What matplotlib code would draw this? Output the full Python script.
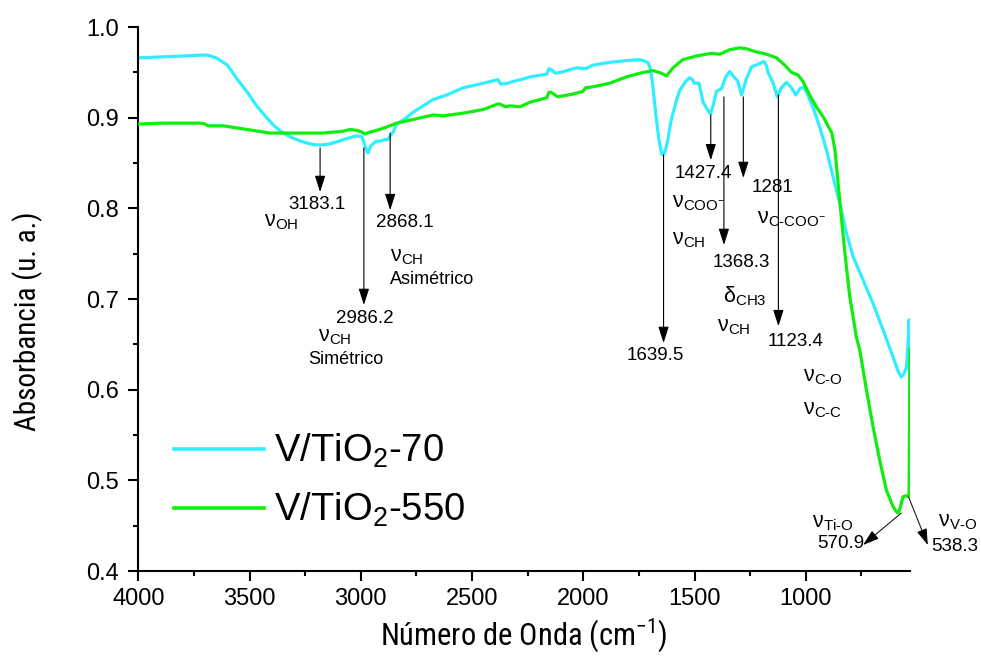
import matplotlib
matplotlib.use("Agg")
import matplotlib.pyplot as plt
from matplotlib import font_manager
from matplotlib.ticker import MultipleLocator

# ---------------------------------------------------------------- data
# FTIR spectra: wavenumber (cm-1) and absorbance (a.u.)
wn_70 = [4000, 3900, 3800, 3720, 3690, 3650, 3600, 3557, 3510, 3468, 3430, 3394,
         3360, 3319, 3280, 3242, 3206, 3170, 3140, 3100, 3062, 3020, 2995, 2980,
         2968, 2955, 2946, 2930, 2914, 2890, 2878, 2868, 2855, 2839, 2800, 2765,
         2720, 2675, 2614, 2540, 2466, 2400, 2385, 2370, 2340, 2316, 2280, 2240,
         2190, 2164, 2155, 2145, 2125, 2100, 2060, 2030, 1990, 1956, 1882, 1806,
         1746, 1710, 1700, 1690, 1675, 1660, 1648, 1640, 1630, 1620, 1607, 1597,
         1580, 1567, 1540, 1522, 1510, 1500, 1480, 1462, 1445, 1428, 1415, 1402,
         1379, 1360, 1342, 1320, 1307, 1289, 1278, 1267, 1244, 1215, 1189, 1178,
         1170, 1147, 1128, 1110, 1087, 1065, 1045, 1027, 1009, 991, 969, 938,
         907, 878, 848, 818, 788, 743, 698, 653, 608, 585, 571, 560, 548, 541,
         536, 533, 532]
abs_70 = [0.966, 0.967, 0.968, 0.969, 0.969, 0.966, 0.958, 0.943, 0.928, 0.913, 0.902, 0.892,
          0.885, 0.879, 0.875, 0.872, 0.870, 0.870, 0.871, 0.874, 0.877, 0.880, 0.879, 0.868,
          0.861, 0.869, 0.871, 0.874, 0.874, 0.876, 0.876, 0.880, 0.884, 0.893, 0.899, 0.906,
          0.913, 0.920, 0.925, 0.933, 0.937, 0.941, 0.942, 0.937, 0.938, 0.940, 0.942, 0.945,
          0.947, 0.948, 0.954, 0.953, 0.949, 0.950, 0.953, 0.955, 0.954, 0.958, 0.961, 0.963,
          0.964, 0.961, 0.955, 0.940, 0.905, 0.875, 0.860, 0.859, 0.865, 0.876, 0.895, 0.905,
          0.920, 0.930, 0.940, 0.944, 0.942, 0.938, 0.938, 0.917, 0.910, 0.904, 0.915, 0.929,
          0.932, 0.945, 0.951, 0.944, 0.941, 0.925, 0.934, 0.943, 0.956, 0.959, 0.962, 0.958,
          0.950, 0.938, 0.923, 0.933, 0.939, 0.933, 0.925, 0.932, 0.934, 0.925, 0.912, 0.890,
          0.864, 0.835, 0.806, 0.773, 0.747, 0.721, 0.695, 0.666, 0.636, 0.620, 0.614, 0.617,
          0.625, 0.650, 0.677, 0.600, 0.511]

wn_550 = [4000, 3888, 3723, 3700, 3687, 3619, 3512, 3408, 3287, 3170, 3080, 3048,
          3018, 2995, 2982, 2960, 2929, 2891, 2838, 2765, 2675, 2630, 2540, 2450,
          2385, 2375, 2350, 2330, 2285, 2240, 2164, 2155, 2145, 2115, 2047, 2002,
          1990, 1956, 1882, 1806, 1746, 1687, 1649, 1626, 1597, 1553, 1492, 1424,
          1387, 1342, 1297, 1267, 1230, 1177, 1132, 1095, 1065, 1035, 1013, 983,
          953, 920, 907, 883, 869, 848, 826, 803, 773, 758, 743, 728, 698, 668,
          638, 608, 595, 586, 578, 571, 563, 547, 540, 536, 532]
abs_550 = [0.893, 0.894, 0.894, 0.893, 0.891, 0.891, 0.887, 0.883, 0.883, 0.883, 0.885, 0.887,
           0.886, 0.884, 0.882, 0.884, 0.886, 0.889, 0.894, 0.898, 0.903, 0.902, 0.905, 0.909,
           0.915, 0.915, 0.912, 0.913, 0.912, 0.917, 0.922, 0.928, 0.928, 0.923, 0.926, 0.929,
           0.933, 0.934, 0.938, 0.945, 0.949, 0.952, 0.949, 0.946, 0.955, 0.964, 0.968, 0.971,
           0.970, 0.975, 0.977, 0.976, 0.973, 0.970, 0.966, 0.958, 0.950, 0.947, 0.940, 0.925,
           0.912, 0.900, 0.894, 0.883, 0.864, 0.809, 0.754, 0.703, 0.658, 0.644, 0.622, 0.600,
           0.559, 0.522, 0.489, 0.471, 0.466, 0.464, 0.468, 0.475, 0.482, 0.483, 0.482, 0.486,
           0.644]

series_labels = ["V/TiO$_2$-70", "V/TiO$_2$-550"]

# band positions (cm-1) marked with vertical arrows
band_values = [3183.1, 2986.2, 2868.1, 1639.5, 1427.4, 1368.3, 1281, 1123.4]
# bands marked with slanted arrows at the low-wavenumber edge
edge_band_values = [570.9, 538.3]

# ---------------------------------------------------------------- style
BASE = "Liberation Sans"


def find_narrow():
    wanted = ("Liberation Sans Narrow", "Arial Narrow", "DejaVu Sans Condensed",
              "Roboto Condensed", "Open Sans Condensed", "Noto Sans Condensed")
    names = {f.name for f in font_manager.fontManager.ttflist}
    for w in wanted:
        if w in names:
            return w, None
    for f in font_manager.fontManager.ttflist:
        if f.name.startswith(("Liberation Sans", "DejaVu Sans", "Noto Sans",
                              "Open Sans", "Roboto")) and \
                str(f.stretch) in ("condensed", "semi-condensed", "375", "500"):
            return f.name, f.fname
    return None, None


narrow_name, narrow_file = find_narrow()
if narrow_file:
    label_font = dict(fontproperties=font_manager.FontProperties(fname=narrow_file))
elif narrow_name:
    label_font = dict(family=narrow_name)
else:
    label_font = dict(family=BASE)

plt.rcParams.update({
    "font.family": [BASE, "DejaVu Sans"],
    "mathtext.fontset": "custom",
    "mathtext.rm": BASE,
    "mathtext.it": BASE + ":italic",
    "mathtext.bf": BASE + ":bold",
    "mathtext.sf": BASE,
})

colors = ["#30EEFF", "#10EE10"]

fig = plt.figure(figsize=(9.81, 6.56), dpi=100)
ax = fig.add_axes([138.3 / 981, 85 / 656, 771.7 / 981, 544 / 656])

ax.plot(wn_70, abs_70, color=colors[0], lw=2.3, label=series_labels[0], zorder=2)
ax.plot(wn_550, abs_550, color=colors[1], lw=2.3, label=series_labels[1], zorder=3)

ax.set_xlim(4000, 532)
ax.set_ylim(0.4, 1.0)
ax.xaxis.set_major_locator(MultipleLocator(500))
ax.xaxis.set_minor_locator(MultipleLocator(250))
ax.yaxis.set_major_locator(MultipleLocator(0.1))
ax.yaxis.set_minor_locator(MultipleLocator(0.05))
ax.yaxis.set_major_formatter(plt.FuncFormatter(lambda v, p: f"{v:.1f}"))

for s in ("top", "right"):
    ax.spines[s].set_visible(False)
for s in ("left", "bottom"):
    ax.spines[s].set_linewidth(1.5)

ax.tick_params(which="major", direction="out", length=7, width=1.5,
               labelsize=17)
ax.tick_params(which="minor", direction="out", length=3.6, width=1.5)
ax.tick_params(axis="y", which="major", pad=7)
ax.tick_params(axis="x", which="major", pad=5)

xl_size = 22 if narrow_name else 19
yl_size = 21 if narrow_name else 18
ax.set_xlabel("Número de Onda (cm$^{\\mathregular{-1}}$)", fontsize=xl_size,
              **label_font)
ax.set_ylabel("Absorbancia (u. a.)", fontsize=yl_size, **label_font)
ax.xaxis.set_label_coords(0.5, -0.084)
ax.yaxis.set_label_coords(-0.123, 0.46)

leg = ax.legend(loc="center left", bbox_to_anchor=(0.046, 0.166),
                frameon=False, fontsize=27.5, handlelength=2.35,
                handletextpad=0.28, labelspacing=0.55, borderpad=0,
                borderaxespad=0)
for line in leg.get_lines():
    line.set_linewidth(2.6)

# ---------------------------------------------------------------- annotations
arrow_style = dict(arrowstyle="-|>,head_length=1.0,head_width=0.32",
                   color="black", lw=0.8, shrinkA=0, shrinkB=0,
                   mutation_scale=10)

# arrow tail / tip heights for each vertical arrow
arrow_spans = [(0.8666, 0.818), (0.8666, 0.6934), (0.883, 0.798),
               (0.859, 0.6515), (0.903, 0.853), (0.923, 0.7596),
               (0.923, 0.8335), (0.925, 0.670)]
value_text_pos = [(3199, 0.804), (2982, 0.678), (2802, 0.784), (1677, 0.638),
                  (1463, 0.838), (1292, 0.740), (1150, 0.823), (1045, 0.653)]

for v, (y0, y1), (tx, ty) in zip(band_values, arrow_spans, value_text_pos):
    ax.annotate("", xy=(v, y1), xytext=(v, y0), arrowprops=arrow_style)
    ax.text(tx, ty, f"{v:g}", fontsize=13.5, ha="center", va="center")

# slanted arrows at the spectrum edge
edge_arrows = [((570.9, 0.464), (743, 0.4287)),
               ((538.3, 0.4816), (452, 0.4287))]
edge_text_pos = [(845, 0.430), (333, 0.4265)]
for v, (tail, tip), (tx, ty) in zip(edge_band_values, edge_arrows, edge_text_pos):
    ax.annotate("", xy=tip, xytext=tail, arrowprops=dict(arrow_style, lw=0.7),
                annotation_clip=False)
    ax.text(tx, ty, f"{v:g}", fontsize=13.5, ha="center", va="center",
            clip_on=False)

mode_labels = [
    ("$\\mathrm{ν_{OH}}$", 3356, 0.785),
    ("$\\mathrm{ν_{CH}}$", 3118, 0.659),
    ("$\\mathrm{ν_{CH}}$", 2794, 0.747),
    ("$\\mathrm{ν_{COO^{-}}}$", 1484, 0.806),
    ("$\\mathrm{ν_{CH}}$", 1526, 0.766),
    ("$\\mathrm{δ_{CH3}}$", 1274, 0.703),
    ("$\\mathrm{ν_{CH}}$", 1325, 0.670),
    ("$\\mathrm{ν_{\\text{C-COO}^{-}}}$", 1066, 0.789),
    ("$\\mathrm{ν_{\\text{C-O}}}$", 925, 0.615),
    ("$\\mathrm{ν_{\\text{C-C}}}$", 923, 0.578),
    ("$\\mathrm{ν_{\\text{Ti-O}}}$", 878, 0.4535),
    ("$\\mathrm{ν_{\\text{V-O}}}$", 318, 0.4544),
]
for txt, x, y in mode_labels:
    ax.text(x, y, txt, fontsize=15.5, ha="center", va="center", clip_on=False)

ax.text(3067, 0.633, "Simétrico", fontsize=13, ha="center", va="center")
ax.text(2681, 0.722, "Asimétrico", fontsize=13, ha="center", va="center")

fig.savefig("out.png", dpi=100)
